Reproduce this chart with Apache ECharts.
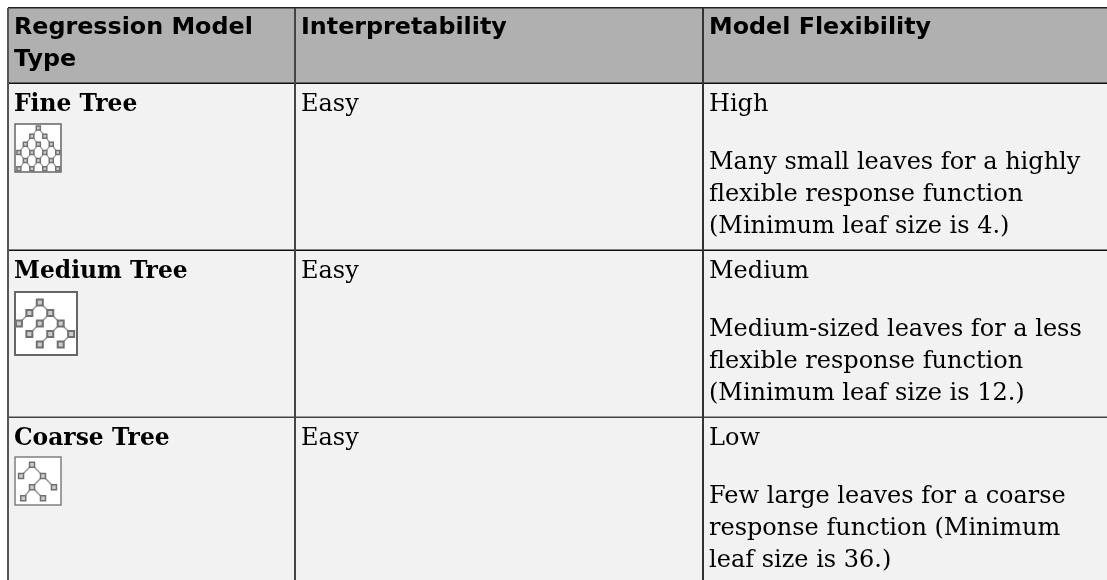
<!DOCTYPE html>
<html><head><meta charset="utf-8">
<style>html,body{margin:0;padding:0;background:#fff}#c{width:1107px;height:580px}</style>
<script src="https://cdn.jsdelivr.net/npm/echarts@6/dist/echarts.min.js"></script></head>
<body><div id="c"></div>
<script>
const columns = [["Regression Model","Type"],["Interpretability"],["Model Flexibility"]];
const modelNames = ["Fine Tree","Medium Tree","Coarse Tree"];
const interpretability = ["Easy","Easy","Easy"];
const flexibility = ["High","Medium","Low"];
const flexibilityNotes = [
 ["Many small leaves for a highly","flexible response function","(Minimum leaf size is 4.)"],
 ["Medium-sized leaves for a less","flexible response function","(Minimum leaf size is 12.)"],
 ["Few large leaves for a coarse","response function (Minimum","leaf size is 36.)"]
];
const fineNodes = [[4,0],[3,1],[5,1],[2,2],[4,2],[6,2],[1,3],[3,3],[5,3],[7,3],[2,4],[4,4],[6,4],[1,5],[3,5],[5,5],[7,5]];
const fineEdges = [[0,1],[0,2],[1,3],[1,4],[2,5],[3,6],[3,7],[4,7],[4,8],[5,8],[5,9],[6,10],[7,10],[7,11],[8,11],[8,12],[9,12],[10,13],[10,14],[11,14],[11,15],[12,15],[12,16]];
const mediumNodes = [[3,1],[2,2],[4,2],[1,3],[3,3],[5,3],[2,4],[4,4],[6,4],[3,5],[5,5]];
const mediumEdges = [[0,1],[0,2],[1,3],[2,4],[2,5],[4,6],[5,7],[5,8],[7,9],[8,10]];
const coarseNodes = [[2,1],[1,2],[3,2],[2,3],[4,3],[1.2,4],[3,4]];
const coarseEdges = [[0,1],[0,2],[2,3],[2,4],[3,5],[3,6]];

const X = [8,295,703,1107], Y = [8,83,250,417,580];
const sans = '"DejaVu Sans"', serif = '"DejaVu Serif"';
const g = [];
const rect=(x,y,w,h,fill,z)=>g.push({type:'rect',shape:{x,y,width:w,height:h},style:{fill},z:z||0,silent:true});
const txt=(x,y,t,font,w,size)=>g.push({type:'text',x,y,style:{text:t,fill:'#000',font:`${w} ${size}px ${font}`,textVerticalAlign:'middle'},z:3,silent:true});
rect(X[0],Y[0],X[3]-X[0],Y[1]-Y[0],'#b0b0b0');
rect(X[0],Y[1],X[3]-X[0],Y[4]-Y[1],'#f2f2f2');
rect(X[0],Y[0]-1,X[3]-X[0],1.5,'#222',2);
for (let i=1;i<4;i++) rect(X[0],Y[i]-0.5,X[3]-X[0],1.5,i===3?'#444':'#111',2);
rect(X[0]-1,Y[0],2,Y[4]-Y[0],'#555',2);
rect(X[1]-1,Y[0],2,Y[4]-Y[0],'#444',2);
rect(X[2]-1,Y[0],2,Y[4]-Y[0],'#333',2);
columns.forEach((lines,c)=>lines.forEach((t,i)=>txt(X[c]+6,28+i*32,t,sans,'bold',23.8)));
modelNames.forEach((t,r)=>{
  txt(X[0]+6,Y[r+1]+22,t,serif,'bold',23.4);
  txt(X[1]+6,Y[r+1]+22,interpretability[r],serif,'normal',24);
  txt(X[2]+6,Y[r+1]+22,flexibility[r],serif,'normal',24);
  flexibilityNotes[r].forEach((l,i)=>txt(X[2]+6,Y[r+1]+80+i*32,l,serif,'normal',24));
});
const icons=[
 {nodes:fineNodes,edges:fineEdges,box:[15,124,46,48],xr:[0.4,7.5],yr:[-0.5,5.4],size:4,lw:1.2,border:'#666',bw:1.5,nb:1.5},
 {nodes:mediumNodes,edges:mediumEdges,box:[15,292,62,63],xr:[0.625,6.56],yr:[0,6],size:6,lw:1.5,border:'#666',bw:2,nb:2},
 {nodes:coarseNodes,edges:coarseEdges,box:[15,457,46,48],xr:[0.45,4.64],yr:[0.3,4.6],size:5,lw:1.5,border:'#808080',bw:1.5,nb:1.5}
];
const grid=[],xAxis=[],yAxis=[],series=[];
icons.forEach((ic,k)=>{
  grid.push({z:1,left:ic.box[0],top:ic.box[1],width:ic.box[2],height:ic.box[3],show:true,backgroundColor:'#fff',borderColor:ic.border,borderWidth:ic.bw});
  xAxis.push({type:'value',gridIndex:k,min:ic.xr[0],max:ic.xr[1],show:false});
  yAxis.push({type:'value',gridIndex:k,min:ic.yr[0],max:ic.yr[1],inverse:true,show:false});
  series.push({type:'lines',coordinateSystem:'cartesian2d',xAxisIndex:k,yAxisIndex:k,silent:true,z:3,
    lineStyle:{color:'#999',width:ic.lw,opacity:1},
    data:ic.edges.map(e=>({coords:[ic.nodes[e[0]],ic.nodes[e[1]]]}))});
  series.push({type:'scatter',xAxisIndex:k,yAxisIndex:k,silent:true,z:4,symbol:'rect',symbolSize:ic.size,
    itemStyle:{color:'#ccc',borderColor:'#707070',borderWidth:ic.nb,opacity:1},data:ic.nodes,clip:false});
});
const chart=echarts.init(document.getElementById('c'),null,{renderer:'canvas'});
chart.setOption({animation:false,backgroundColor:'#fff',tooltip:{show:false},grid,xAxis,yAxis,series,graphic:{elements:g}});
</script></body></html>
